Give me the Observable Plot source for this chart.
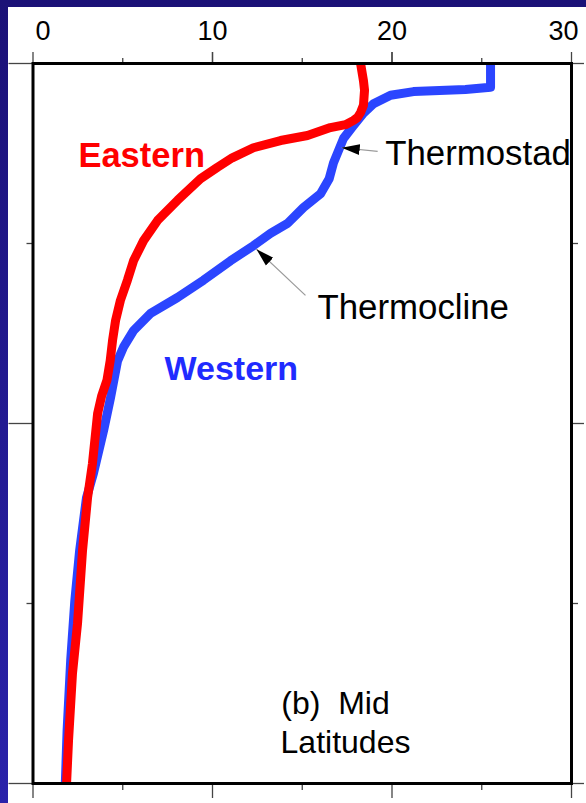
<!DOCTYPE html>
<html><head><meta charset="utf-8">
<script src="https://cdn.jsdelivr.net/npm/d3@7"></script>
<script src="https://cdn.jsdelivr.net/npm/@observablehq/plot@0.6"></script>
<style>
html,body{margin:0;padding:0;}
body{width:586px;height:803px;overflow:hidden;background:linear-gradient(to bottom,#1b1177,#2a22aa);position:relative;font-family:"Liberation Sans",Arial,sans-serif;}
#chart{position:absolute;left:8px;top:7px;width:578px;height:796px;background:#fff;}
</style></head><body><div id="chart"></div>
<script>
// Tick values
const tempMajorTicks = [0, 10, 20, 30];
const tempMinorTicks = [5, 15, 25];
const depthMajorTicks = [0, 500, 1000];
const depthMinorTicks = [250, 750];

// Eastern profile (red)
const easternTemp  = [18.25,18.41,18.47,18.41,18.25,18.08,17.86,17.41,16.57,15.29,13.79,12.28,11.1,10.28,9.33,8.05,6.94,6.16,5.6,5.26,4.87,4.6,4.43,4.3,4.12,3.82,3.6,3.31,3.04,2.76,2.48,2.2,1.98,1.87];
const easternDepth = [0,24,37,58,68,75,79,85,89,100,107,117,131,144,160,190,218,246,274,301,329,357,385,413,440,462,486,556,603,676,778,847,940,1000];

// Western profile (blue)
const westernTemp  = [25.49,25.49,24.09,21.2,19.92,18.97,18.41,17.86,17.3,17.02,16.74,16.5,16.02,15.07,14.18,13.23,12.28,11.0,9.5,8.05,6.55,5.6,5.04,4.71,4.32,3.93,3.37,2.98,2.6,2.33,2.1,1.9,1.8];
const westernDepth = [0,33,36,39,44,56,69,86,104,121,138,160,181,200,222,236,253,274,301,325,347,371,394,413,464,510,569,603,676,746,829,926,1000];

const eastern = easternTemp.map((t, i) => ({t, d: easternDepth[i]}));
const western = westernTemp.map((t, i) => ({t, d: westernDepth[i]}));

const font = "Liberation Sans, Arial, Helvetica, sans-serif";
const tickStyle = {label: null, stroke: "#444", strokeWidth: 1.3};

const plot = Plot.plot({
  width: 578, height: 796,
  marginLeft: 24.5, marginRight: 15, marginTop: 56, marginBottom: 20,
  style: {background: "white", fontFamily: font, color: "black", overflow: "visible"},
  x: {domain: [0, 30]},
  y: {domain: [0, 1000], reverse: true},
  marks: [
    Plot.axisX(tempMajorTicks, {anchor: "top", tickSize: 12, tickFormat: () => "", ...tickStyle}),
    Plot.axisX(tempMinorTicks, {anchor: "top", tickSize: 6, tickFormat: () => "", ...tickStyle}),
    Plot.axisX([10, 20], {anchor: "top", tickSize: 12, tickPadding: 12, fontSize: 27, ...tickStyle, fill: "black"}),
    Plot.axisX([0], {anchor: "top", tickSize: 0, tickPadding: 24, fontSize: 27, dx: 10, ...tickStyle, fill: "black"}),
    Plot.axisX([30], {anchor: "top", tickSize: 0, tickPadding: 24, fontSize: 27, dx: -8, ...tickStyle, fill: "black"}),
    Plot.axisX(tempMajorTicks, {anchor: "bottom", tickSize: 15, tickFormat: () => "", ...tickStyle}),
    Plot.axisX(tempMinorTicks, {anchor: "bottom", tickSize: 7, tickFormat: () => "", ...tickStyle}),
    Plot.axisY(depthMajorTicks, {anchor: "left", tickSize: 24, tickFormat: () => "", ...tickStyle}),
    Plot.axisY(depthMinorTicks, {anchor: "left", tickSize: 6, tickFormat: () => "", ...tickStyle}),
    Plot.axisY(depthMajorTicks, {anchor: "right", tickSize: 12, tickFormat: () => "", ...tickStyle}),
    Plot.axisY(depthMinorTicks, {anchor: "right", tickSize: 6, tickFormat: () => "", ...tickStyle}),
    Plot.line(western, {x: "t", y: "d", stroke: "#2b45ff", strokeWidth: 9, strokeLinejoin: "round", strokeLinecap: "butt"}),
    Plot.line(eastern, {x: "t", y: "d", stroke: "#ff0000", strokeWidth: 9, strokeLinejoin: "round", strokeLinecap: "butt"}),
    Plot.link([{x1: 19.2, y1: 122, x2: 17.2, y2: 117}, {x1: 15.18, y1: 322, x2: 12.45, y2: 258}],
      {x1: "x1", y1: "y1", x2: "x2", y2: "y2", stroke: "#999", strokeWidth: 1.2, markerEnd: "arrow"}),
    Plot.text([{t: 2.53, d: 128, s: "Eastern"}], {x: "t", y: "d", text: "s", textAnchor: "start", fill: "#ff0000", fontSize: 34.5, fontWeight: "bold"}),
    Plot.text([{t: 7.33, d: 424, s: "Western"}], {x: "t", y: "d", text: "s", textAnchor: "start", fill: "#1f2bff", fontSize: 34, fontWeight: "bold"}),
    Plot.text([{t: 19.62, d: 125, s: "Thermostad"}], {x: "t", y: "d", text: "s", textAnchor: "start", fill: "black", fontSize: 34.8}),
    Plot.text([{t: 15.85, d: 339, s: "Thermocline"}], {x: "t", y: "d", text: "s", textAnchor: "start", fill: "black", fontSize: 34.8}),
    Plot.text([{t: 16.85, d: 889, s: "(b)  Mid"}], {x: "t", y: "d", text: "s", textAnchor: "middle", fill: "black", fontSize: 32}),
    Plot.text([{t: 17.41, d: 943, s: "Latitudes"}], {x: "t", y: "d", text: "s", textAnchor: "middle", fill: "black", fontSize: 32}),
    Plot.frame({stroke: "black", strokeWidth: 3})
  ]
});

// Turn the arrow markers into filled black triangles
plot.querySelectorAll("marker").forEach(m => {
  m.setAttribute("markerUnits", "userSpaceOnUse");
  m.setAttribute("viewBox", "-6 -5 10 10");
  m.setAttribute("markerWidth", "18");
  m.setAttribute("markerHeight", "18");
  m.setAttribute("refX", "4");
  m.setAttribute("refY", "0");
  m.setAttribute("fill", "black");
  m.setAttribute("stroke", "none");
  m.innerHTML = "";
  const p = document.createElementNS("http://www.w3.org/2000/svg", "path");
  p.setAttribute("d", "M-6,-3L4,0L-6,3Z");
  p.setAttribute("fill", "black");
  p.setAttribute("stroke", "none");
  m.appendChild(p);
});

document.getElementById("chart").appendChild(plot);
</script>
</body></html>
